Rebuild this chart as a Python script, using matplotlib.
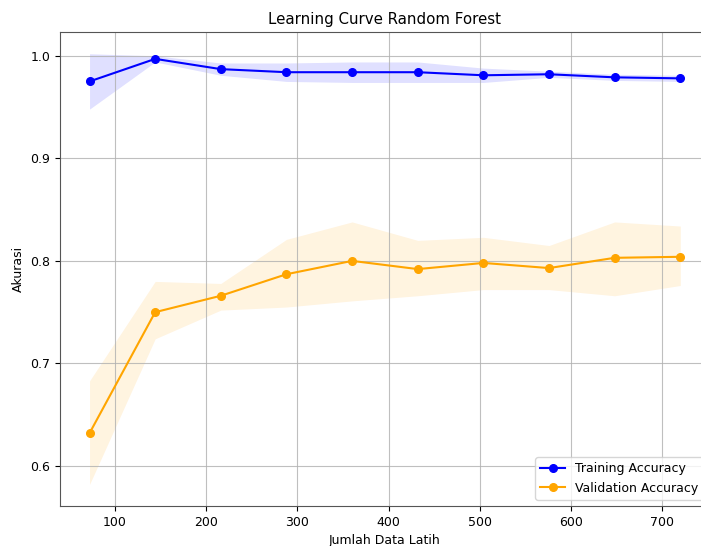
import matplotlib
matplotlib.use('Agg')
import numpy as np
import matplotlib.pyplot as plt

# training set sizes and scores
train_sizes = [72, 144, 216, 288, 360, 432, 504, 576, 648, 720]
train_mean = [0.975, 0.997, 0.987, 0.984, 0.984, 0.984, 0.981, 0.982, 0.979, 0.978]
train_upper = [1.002, 1.000, 0.993, 0.993, 0.994, 0.994, 0.988, 0.985, 0.982, 0.981]
train_lower = [0.948, 0.994, 0.981, 0.975, 0.974, 0.974, 0.974, 0.979, 0.976, 0.975]

val_mean = [0.632, 0.750, 0.766, 0.787, 0.800, 0.792, 0.798, 0.793, 0.803, 0.804]
val_upper = [0.683, 0.780, 0.778, 0.821, 0.838, 0.820, 0.823, 0.815, 0.838, 0.834]
val_lower = [0.582, 0.724, 0.752, 0.755, 0.761, 0.766, 0.772, 0.772, 0.766, 0.776]

plt.rcParams['font.size'] = 9

fig = plt.figure(figsize=(7.01, 5.46), dpi=100)
ax = fig.add_axes([0.0856, 0.0733, 0.927, 0.8677])

ax.plot(train_sizes, train_mean, 'o-', color='blue', markersize=5.5, label='Training Accuracy')
ax.fill_between(train_sizes, train_lower, train_upper, color='blue', alpha=0.12, linewidth=0)
ax.plot(train_sizes, val_mean, 'o-', color='orange', markersize=5.5, label='Validation Accuracy')
ax.fill_between(train_sizes, val_lower, val_upper, color='orange', alpha=0.12, linewidth=0)

ax.set_title('Learning Curve Random Forest')
ax.set_xlabel('Jumlah Data Latih')
ax.set_ylabel('Akurasi')
ax.grid(True, color='#b0b0b0', alpha=0.8)
for s in ax.spines.values():
    s.set_color('#555555')
ax.legend(loc='lower right')

fig.savefig('out.png', dpi=100)
